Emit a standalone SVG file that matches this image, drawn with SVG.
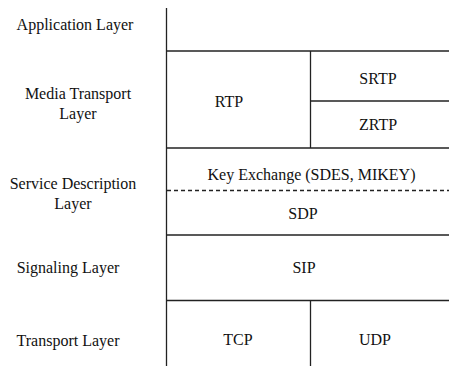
<svg xmlns="http://www.w3.org/2000/svg" width="449" height="366" viewBox="0 0 449 366">
<style>
text{font-family:'Liberation Serif','Times New Roman','DejaVu Serif',serif;font-size:16px;fill:#111;text-anchor:middle}
.ln{stroke:#222;stroke-width:1.3;fill:none}
.dash{stroke:#222;stroke-width:1.3;stroke-dasharray:4,3;fill:none}
</style>
<rect width="449" height="366" fill="#fff"/>
<g id="labels">
<text x="75" y="30">Application Layer</text>
<text x="78" y="99">Media Transport</text>
<text x="78" y="119">Layer</text>
<text x="73" y="189">Service Description</text>
<text x="73" y="209">Layer</text>
<text x="68" y="273">Signaling Layer</text>
<text x="68" y="346">Transport Layer</text>
</g>
<g id="connectors">
<line class="ln" x1="166.5" y1="8" x2="166.5" y2="366"/>
<line class="ln" x1="166" y1="51" x2="449" y2="51"/>
<line class="ln" x1="310.5" y1="51" x2="310.5" y2="148"/>
<line class="ln" x1="310" y1="101" x2="449" y2="101"/>
<line class="ln" x1="166" y1="148" x2="449" y2="148"/>
<line class="dash" x1="167" y1="190.5" x2="449" y2="190.5"/>
<line class="ln" x1="166" y1="235" x2="449" y2="235"/>
<line class="ln" x1="166" y1="300.5" x2="449" y2="300.5"/>
<line class="ln" x1="310.5" y1="300" x2="310.5" y2="366"/>
</g>
<g id="rtp"><text x="229" y="107">RTP</text></g>
<g id="srtp"><text x="378" y="84">SRTP</text></g>
<g id="zrtp"><text x="378" y="130">ZRTP</text></g>
<g id="keyexchange"><text x="311.5" y="180">Key Exchange (SDES, MIKEY)</text></g>
<g id="sdp"><text x="303" y="219">SDP</text></g>
<g id="sip"><text x="304" y="273">SIP</text></g>
<g id="tcp"><text x="238" y="345">TCP</text></g>
<g id="udp"><text x="375" y="345">UDP</text></g>
</svg>
